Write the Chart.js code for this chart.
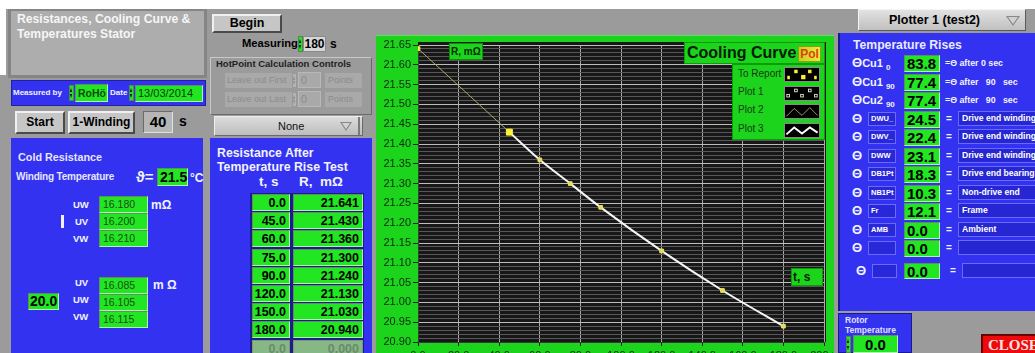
<!DOCTYPE html>
<html>
<head>
<meta charset="utf-8">
<script src="https://cdn.jsdelivr.net/npm/chart.js@4.4.1/dist/chart.umd.min.js"></script>
<style>
html,body{margin:0;padding:0;}
body{width:1035px;height:353px;overflow:hidden;background:#fff;position:relative;font-family:"Liberation Sans",Arial,sans-serif;}
.a{position:absolute;box-sizing:border-box;white-space:nowrap;}
.blue{background:#3232f0;}
.grn{background:#22e622;border:1px solid #5f8f5f;border-right-color:#b0f0b0;border-bottom-color:#b0f0b0;}
.btn{background:#c6c6c6;border:2px solid;border-color:#f0f0f0 #4a4a4a #4a4a4a #f0f0f0;font-weight:bold;text-align:center;color:#000;}
.w{color:#f2f2ff;font-weight:bold;}
.spin{width:5px;height:16px;background:#2ae02a;border:1px solid #4a8a4a;}
.spin:before,.spin:after{content:"";position:absolute;left:0;border-left:1.5px solid transparent;border-right:1.5px solid transparent;}
.spin:before{top:2px;border-bottom:4px solid #000;}
.spin:after{bottom:2px;border-top:4px solid #000;}
.gspin{background:#b4b4b4;border-color:#999;}
.gspin:before{border-bottom-color:#8a8a8a;}
.gspin:after{border-top-color:#8a8a8a;}
.lbl{background:#2828d8;border:1px solid #6a6aff;color:#fff;font-weight:bold;font-size:7.5px;line-height:12px;padding-left:2px;overflow:hidden;}
.desc{background:#2626d2;border:1px solid #6a6aff;color:#fff;font-weight:bold;font-size:8.6px;line-height:13px;padding-left:3px;}
.val{font-weight:bold;font-size:15px;line-height:15px;color:#000;padding-left:2px;}
.cell{font-weight:bold;font-size:12.5px;line-height:16px;text-align:right;padding-right:3px;color:#000;}
.sw{background:#000;border:1px solid #8a8a8a;}
.leg{font-size:10px;color:#143a14;}
.dim{background:#a9a9a9;font-size:9px;line-height:15px;color:#8b8b8b;}
</style>
</head>
<body>
<!-- window background -->
<div class="a" style="left:0;top:9px;width:1035px;height:344px;background:#9b9b9b"></div>
<div class="a" style="left:0;top:9px;width:6px;height:66px;background:#fff"></div>

<!-- title -->
<div class="a" style="left:8px;top:9px;width:199px;height:69px;background:#adadad;border:3px solid #858585;border-top-width:2px"></div>
<div class="a w" style="left:17px;top:12px;font-size:12.2px;line-height:15px;color:#f6f6f6">Resistances, Cooling Curve &amp;<br>Temperatures Stator</div>

<!-- measured by -->
<div class="a blue" style="left:11px;top:80px;width:195px;height:26px;border:1px solid #2020a0"></div>
<div class="a w" style="left:13px;top:88px;font-size:8px">Measured by</div>
<div class="a spin" style="left:69px;top:85px"></div>
<div class="a grn" style="left:75px;top:84px;width:33px;height:18px;font-weight:bold;font-size:10.5px;line-height:16px;padding-left:2px;color:#0e4a0e">RoHö</div>
<div class="a w" style="left:110px;top:88px;font-size:8px">Date</div>
<div class="a spin" style="left:129px;top:85px"></div>
<div class="a grn" style="left:135px;top:85px;width:68px;height:17px;font-size:11px;line-height:15px;padding-left:2px;color:#0e3a0e">13/03/2014</div>

<!-- start row -->
<div class="a btn" style="left:15px;top:111px;width:50px;height:23px;font-size:12px;line-height:19px">Start</div>
<div class="a btn" style="left:68px;top:111px;width:67px;height:23px;font-size:12px;line-height:19px">1-Winding</div>
<div class="a" style="left:143px;top:111px;width:30px;height:22px;background:#b6b6b6;border:1px solid;border-color:#6a6a6a #e0e0e0 #e0e0e0 #6a6a6a;font-weight:bold;font-size:15px;line-height:20px;text-align:center">40</div>
<div class="a" style="left:179px;top:113px;font-weight:bold;font-size:14px">s</div>

<!-- cold resistance panel -->
<div class="a blue" style="left:11px;top:138px;width:192px;height:215px"></div>
<div class="a w" style="left:18px;top:151px;font-size:10.8px;color:#e6e6ff">Cold Resistance</div>
<div class="a w" style="left:16px;top:171px;font-size:10px;letter-spacing:-0.2px;color:#e6e6ff">Winding Temperature</div>
<div class="a w" style="left:136px;top:168px;font-size:15px">ϑ=</div>
<div class="a grn" style="left:157px;top:168px;width:31px;height:18px;font-weight:bold;font-size:14px;line-height:16px;padding-left:2px;color:#000">21.5</div>
<div class="a w" style="left:190px;top:171px;font-size:12px">°C</div>

<div class="a w" style="left:73px;top:199px;font-size:9.5px">UW</div>
<div class="a w" style="left:75px;top:216px;font-size:9.5px">UV</div>
<div class="a w" style="left:73px;top:233px;font-size:9.5px">VW</div>
<div class="a" style="left:61px;top:215px;width:3px;height:13px;background:#f0f0ff"></div>
<div class="a grn" style="left:99px;top:196px;width:49px;height:17px;font-size:10.5px;line-height:15px;padding-left:3px;color:#1c4a1c">16.180</div>
<div class="a grn" style="left:99px;top:213px;width:49px;height:17px;font-size:10.5px;line-height:15px;padding-left:3px;color:#1c4a1c">16.200</div>
<div class="a grn" style="left:99px;top:230px;width:49px;height:17px;font-size:10.5px;line-height:15px;padding-left:3px;color:#1c4a1c">16.210</div>
<div class="a w" style="left:151px;top:198px;font-size:12px">mΩ</div>

<div class="a w" style="left:75px;top:277px;font-size:9.5px">UV</div>
<div class="a w" style="left:73px;top:294px;font-size:9.5px">UW</div>
<div class="a w" style="left:73px;top:311px;font-size:9.5px">VW</div>
<div class="a grn" style="left:99px;top:277px;width:49px;height:17px;font-size:10.5px;line-height:15px;padding-left:3px;color:#1c4a1c">16.085</div>
<div class="a grn" style="left:99px;top:294px;width:49px;height:17px;font-size:10.5px;line-height:15px;padding-left:3px;color:#1c4a1c">16.105</div>
<div class="a grn" style="left:99px;top:311px;width:49px;height:17px;font-size:10.5px;line-height:15px;padding-left:3px;color:#1c4a1c">16.115</div>
<div class="a w" style="left:153px;top:278px;font-size:12px">m Ω</div>
<div class="a grn" style="left:28px;top:293px;width:31px;height:17px;font-weight:bold;font-size:14px;line-height:15px;padding-left:1px;color:#000">20.0</div>

<!-- begin / measuring -->
<div class="a btn" style="left:212px;top:14px;width:70px;height:19px;font-size:12.5px;line-height:15px">Begin</div>
<div class="a" style="left:242px;top:37px;font-weight:bold;font-size:11.2px">Measuring</div>
<div class="a spin" style="left:298px;top:36px"></div>
<div class="a" style="left:303px;top:36px;width:23px;height:16px;background:#d6d6d6;border:1px solid #8a8a8a;font-weight:bold;font-size:12px;line-height:14px;text-align:center">180</div>
<div class="a" style="left:330px;top:37px;font-weight:bold;font-size:12px">s</div>

<!-- hotpoint controls -->
<div class="a" style="left:210px;top:57px;width:162px;height:58px;border:1px solid;border-color:#c8c8c8 #6a6a6a #6a6a6a #c8c8c8"></div>
<div class="a" style="left:216px;top:58px;font-weight:bold;font-size:9.5px;color:#222">HotPoint Calculation Controls</div>
<div class="a dim" style="left:225px;top:73px;width:67px;height:15px;padding-left:2px">Leave out First</div>
<div class="a spin gspin" style="left:292px;top:73px;height:15px"></div>
<div class="a" style="left:298px;top:72px;width:23px;height:16px;background:#a9a9a9;border:1px solid #b8b8b8;font-size:10.5px;line-height:14px;color:#8b8b8b;padding-left:2px">0</div>
<div class="a dim" style="left:325px;top:73px;width:37px;height:15px;padding-left:3px">Points</div>
<div class="a dim" style="left:225px;top:92px;width:67px;height:15px;padding-left:2px">Leave out Last</div>
<div class="a spin gspin" style="left:292px;top:92px;height:15px"></div>
<div class="a" style="left:298px;top:91px;width:23px;height:16px;background:#a9a9a9;border:1px solid #b8b8b8;font-size:10.5px;line-height:14px;color:#8b8b8b;padding-left:2px">0</div>
<div class="a dim" style="left:325px;top:92px;width:37px;height:15px;padding-left:3px">Points</div>

<!-- none dropdown -->
<div class="a" style="left:214px;top:116px;width:149px;height:20px;background:linear-gradient(#dcdcdc,#bdbdbd);border:1px solid;border-color:#eee #6a6a6a #6a6a6a #eee;font-size:11px;line-height:18px;color:#111;padding-left:63px">None</div>
<div class="a" style="left:340px;top:122px;width:0;height:0;border-left:6px solid transparent;border-right:6px solid transparent;border-top:9px solid #888"></div>
<div class="a" style="left:342px;top:123px;width:0;height:0;border-left:4px solid transparent;border-right:4px solid transparent;border-top:6px solid #d4d4d4"></div>
<div class="a" style="left:358px;top:117px;width:2px;height:18px;background:#7a7a7a"></div>

<!-- resistance after test panel -->
<div class="a blue" style="left:210px;top:138px;width:162px;height:215px"></div>
<div class="a w" style="left:217px;top:146px;font-size:12.3px;line-height:14px">Resistance After<br>Temperature Rise Test</div>
<div class="a w" style="left:259px;top:174px;font-size:13.5px">t, s</div>
<div class="a w" style="left:299px;top:174px;font-size:13.5px">R,&nbsp; mΩ</div>
<div class="a" style="left:250px;top:193px;width:114px;height:160px;background:#1c1c8c"></div>
<div id="rtable"></div>

<!-- chart frame -->
<div class="a" style="left:376px;top:35px;width:458px;height:318px;background:#1bd41b;border-top:1px solid #5ee05e"></div>
<canvas id="cooling" class="a" width="456" height="318" style="left:377px;top:35px"></canvas>
<div class="a" style="left:449px;top:43px;width:34px;height:17px;background:#1bd41b;border:1px solid #0b8f0b;font-weight:bold;font-size:10px;line-height:15px;padding-left:1px;color:#062a06">R, mΩ</div>
<div class="a" style="left:684px;top:42px;width:141px;height:22px;background:#1bd41b;border:1px solid #0b9b0b;font-weight:bold;font-size:16px;line-height:20px;padding-left:2px;color:#031a03">Cooling Curve</div>
<div class="a" style="left:798px;top:46px;width:23px;height:16px;background:linear-gradient(90deg,#c4d020,#eaea40);border:1px solid #8aa010;font-weight:bold;font-size:12px;line-height:14px;text-align:center;color:#e2400a">Pol</div>
<div class="a" style="left:732px;top:64px;width:93px;height:76px;background:#1bd41b;border:1px solid #0b9b0b"></div>
<div class="a leg" style="left:738px;top:68px">To Report</div>
<div class="a leg" style="left:738px;top:86px">Plot 1</div>
<div class="a leg" style="left:738px;top:104px">Plot 2</div>
<div class="a leg" style="left:738px;top:123px">Plot 3</div>
<svg class="a sw" style="left:784px;top:67px" width="36" height="15" viewBox="0 0 36 15"><g fill="#ffee33"><rect x="1" y="9" width="3" height="4"/><rect x="9" y="2" width="4" height="4"/><rect x="17" y="8" width="5" height="5"/><rect x="25" y="2" width="4" height="4"/><rect x="32" y="9" width="3" height="4"/></g></svg>
<svg class="a sw" style="left:784px;top:86px" width="36" height="15" viewBox="0 0 36 15"><g fill="none" stroke="#f0f0d0" stroke-width="1"><rect x="0.5" y="8.5" width="3" height="3"/><rect x="9.5" y="2.5" width="3" height="3"/><rect x="16.5" y="8.5" width="3" height="3"/><rect x="25.5" y="2.5" width="3" height="3"/><rect x="32.5" y="8.5" width="3" height="3"/></g></svg>
<svg class="a sw" style="left:784px;top:104px" width="36" height="15" viewBox="0 0 36 15"><polyline points="0,13 9,4 18,12 27,3 36,12" fill="none" stroke="#b8a870" stroke-width="1"/></svg>
<svg class="a sw" style="left:784px;top:123px" width="36" height="15" viewBox="0 0 36 15"><polyline points="0,12 9,4 18,11 27,4 36,10" fill="none" stroke="#ffffff" stroke-width="2.2"/></svg>
<div class="a" style="left:791px;top:268px;width:32px;height:18px;background:#1bd41b;border:1px solid #0b9b0b;font-weight:bold;font-size:12px;line-height:16px;padding-left:1px;color:#031a03">t, s</div>

<!-- plotter selector -->
<div class="a" style="left:858px;top:9px;width:168px;height:22px;background:linear-gradient(#e2e2e2,#c0c0c0);border:1px solid;border-color:#f4f4f4 #5a5a5a #5a5a5a #f4f4f4;font-weight:bold;font-size:12.5px;line-height:20px;padding-left:30px;color:#000">Plotter 1 (test2)</div>
<div class="a" style="left:1006px;top:16px;width:0;height:0;border-left:7px solid transparent;border-right:7px solid transparent;border-top:10px solid #888"></div>
<div class="a" style="left:1008px;top:17px;width:0;height:0;border-left:5px solid transparent;border-right:5px solid transparent;border-top:7px solid #d2d2d2"></div>

<!-- temperature rises panel -->
<div class="a blue" style="left:838px;top:33px;width:197px;height:278px;border-left:2px solid #1a1a90"></div>
<div class="a w" style="left:853px;top:38px;font-size:12.2px;color:#eaeaff">Temperature Rises</div>
<div id="rises"></div>

<!-- rotor temperature -->
<div class="a blue" style="left:838px;top:313px;width:74px;height:40px;border:1px solid #1a1a90"></div>
<div class="a w" style="left:845px;top:315px;font-size:8.5px;line-height:10px;color:#e0e0ff">Rotor<br>Temperature</div>
<div class="a spin" style="left:846px;top:336px;height:17px"></div>
<div class="a grn" style="left:853px;top:335px;width:45px;height:18px;font-weight:bold;font-size:15px;line-height:17px;text-align:center;color:#000">0.0</div>

<!-- close -->
<div class="a" style="left:981px;top:334px;width:60px;height:22px;background:#ee0a0a;border:2px solid #6a0000;font-family:'Liberation Serif',serif;font-weight:bold;font-size:15px;line-height:18px;padding-left:5px;color:#ffe0e0">CLOSE</div>

<script>
// Cooling measurement: time after switch-off and winding resistance
const timesS = [0, 45, 60, 75, 90, 120, 150, 180];
const resistanceMOhm = [21.641, 21.430, 21.360, 21.300, 21.240, 21.130, 21.030, 20.940];
const reportIndex = 1;                 // first point handed to the report
const timeAxisRange = [0, 200];        // s
const timeAxisStep = 20;
const resistanceAxisRange = [20.90, 21.65]; // mΩ
const resistanceMajorStep = 0.05;
const resistanceMinorStep = 0.01;

// temperature-rise rows: symbol, subscript, sensor tag, value, description
const riseRows = [
  ['Cu1', '0',  null,    '83.8', 'after0'],
  ['Cu1', '90', null,    '77.4', 'after90'],
  ['Cu2', '90', null,    '77.4', 'after90'],
  [null, null, 'DWU_',   '24.5', 'Drive end winding'],
  [null, null, 'DWV_',   '22.4', 'Drive end winding'],
  [null, null, 'DWW',    '23.1', 'Drive end winding'],
  [null, null, 'DB1Pt',  '18.3', 'Drive end bearing'],
  [null, null, 'NB1Pt',  '10.3', 'Non-drive end'],
  [null, null, 'Fr',     '12.1', 'Frame'],
  [null, null, 'AMB',    '0.0',  'Ambient'],
  [null, null, '',       '0.0',  ''],
  [null, null, '',       '0.0',  '']
];

function el(parent, cls, style, html) {
  const d = document.createElement('div');
  d.className = 'a ' + cls;
  d.style.cssText = style;
  d.innerHTML = html;
  parent.appendChild(d);
  return d;
}

// resistance table built from the measured series
(function () {
  const host = document.getElementById('rtable');
  const rows = timesS.map((t, i) => [t.toFixed(1), resistanceMOhm[i].toFixed(3), false]);
  rows.push(['0.0', '0.000', true]);
  rows.forEach((r, i) => {
    const top = 194 + i * 18.2;
    const bg = r[2] ? 'background:#86b886;border-color:#7a9a7a;color:#6a8a6a;' : '';
    el(host, 'grn cell', `left:252px;top:${top}px;width:38px;height:17px;${bg}`, r[0]);
    el(host, 'grn cell', `left:293px;top:${top}px;width:70px;height:17px;${bg}`, r[1]);
  });
})();

// temperature rises list
(function () {
  const host = document.getElementById('rises');
  const tops = [55, 74, 92, 111, 129, 148, 166, 185, 203, 222, 240, 263];
  riseRows.forEach((r, i) => {
    const y = tops[i];
    const last = i === riseRows.length - 1;
    if (r[0]) {
      el(host, 'w', `left:852px;top:${y}px;font-size:13px;line-height:16px`,
        `Θ<span style="font-size:11px">${r[0]}</span><span style="font-size:8px;position:relative;top:3px;margin-left:3px">${r[1]}</span>`);
      const txt = r[4] === 'after0' ? '=Θ after 0 sec' : '=Θ after &nbsp;&nbsp;90 &nbsp;&nbsp;sec';
      el(host, 'w', `left:945px;top:${y + 2}px;font-size:8.8px;line-height:13px`, txt);
    } else {
      el(host, 'w', `left:${last ? 856 : 852}px;top:${y}px;font-size:13px;line-height:16px`, 'Θ');
      el(host, 'lbl', `left:${last ? 872 : 868}px;top:${y + 1}px;width:${last ? 25 : 28}px;height:14px`, r[2]);
      el(host, 'w', `left:${last ? 950 : 946}px;top:${y + 1}px;font-size:10px;line-height:14px`, '=');
      el(host, 'desc', `left:${last ? 962 : 958}px;top:${y}px;width:90px;height:15px`, r[4]);
    }
    el(host, 'grn val', `left:904px;top:${y}px;width:36px;height:${last ? 16 : 17}px`, r[3]);
  });
})();

// cooling curve
const isMajor = v => Math.abs(Math.round(v / resistanceMinorStep) % Math.round(resistanceMajorStep / resistanceMinorStep)) === 0;

const plotBackground = {
  id: 'plotBackground',
  beforeDraw(chart) {
    const { ctx, chartArea: a } = chart;
    ctx.save();
    ctx.fillStyle = '#171717';
    ctx.fillRect(a.left, a.top - 3, a.right - a.left + 2, a.bottom - a.top + 3);
    ctx.restore();
  }
};

const points = timesS.map((t, i) => ({ x: t, y: resistanceMOhm[i] }));

Chart.defaults.font.family = "'Liberation Sans', Arial, sans-serif";

new Chart(document.getElementById('cooling'), {
  type: 'scatter',
  data: {
    datasets: [
      {
        label: 'To Report',
        data: points,
        showLine: false,
        pointStyle: 'rect',
        pointRadius: points.map((p, i) => i === reportIndex ? 4.2 : 2.6),
        pointBackgroundColor: points.map((p, i) => i === reportIndex || i === 0 ? '#fff23a' : '#d8d890'),
        pointBorderColor: points.map((p, i) => i === reportIndex || i === 0 ? '#fff23a' : '#f2e640'),
        pointBorderWidth: 1
      },
      {
        label: 'Plot 3',
        data: points.slice(reportIndex),
        showLine: true,
        borderColor: '#f6f6f6',
        borderWidth: 2,
        cubicInterpolationMode: 'monotone',
        pointRadius: 0
      },
      {
        label: 'Plot 2',
        data: points.slice(0, reportIndex + 1),
        showLine: true,
        borderColor: '#b4a46a',
        borderWidth: 1,
        pointRadius: 0
      }
    ]
  },
  options: {
    responsive: false,
    animation: false,
    events: [],
    layout: { padding: { top: 10, right: 9, left: 0, bottom: 0 } },
    plugins: { legend: { display: false }, tooltip: { enabled: false } },
    scales: {
      x: {
        type: 'linear',
        min: timeAxisRange[0],
        max: timeAxisRange[1],
        afterFit: s => { s.height = 11; s.paddingLeft = 0; s.paddingRight = 0; },
        ticks: {
          stepSize: timeAxisStep,
          autoSkip: false,
          maxRotation: 0,
          padding: 3,
          color: '#0f280f',
          font: { size: 11 },
          callback: v => v.toFixed(1)
        },
        grid: { color: '#a9a9a9', tickColor: '#1a1a1a', tickLength: 4, lineWidth: 1 },
        border: { color: '#3a3a3a' }
      },
      y: {
        type: 'linear',
        min: resistanceAxisRange[0],
        max: resistanceAxisRange[1],
        afterFit: s => { s.width = 41; },
        ticks: {
          stepSize: resistanceMinorStep,
          autoSkip: false,
          padding: 2,
          color: '#0f280f',
          font: { size: 11 },
          callback: v => isMajor(v) ? v.toFixed(2) : ''
        },
        grid: {
          color: c => isMajor(c.tick.value) ? '#bcbcbc' : '#585858',
          tickColor: c => isMajor(c.tick.value) ? '#1a1a1a' : 'rgba(0,0,0,0)',
          tickLength: 5,
          lineWidth: 1
        },
        border: { color: '#3a3a3a' }
      }
    }
  },
  plugins: [plotBackground]
});
</script>
</body>
</html>
